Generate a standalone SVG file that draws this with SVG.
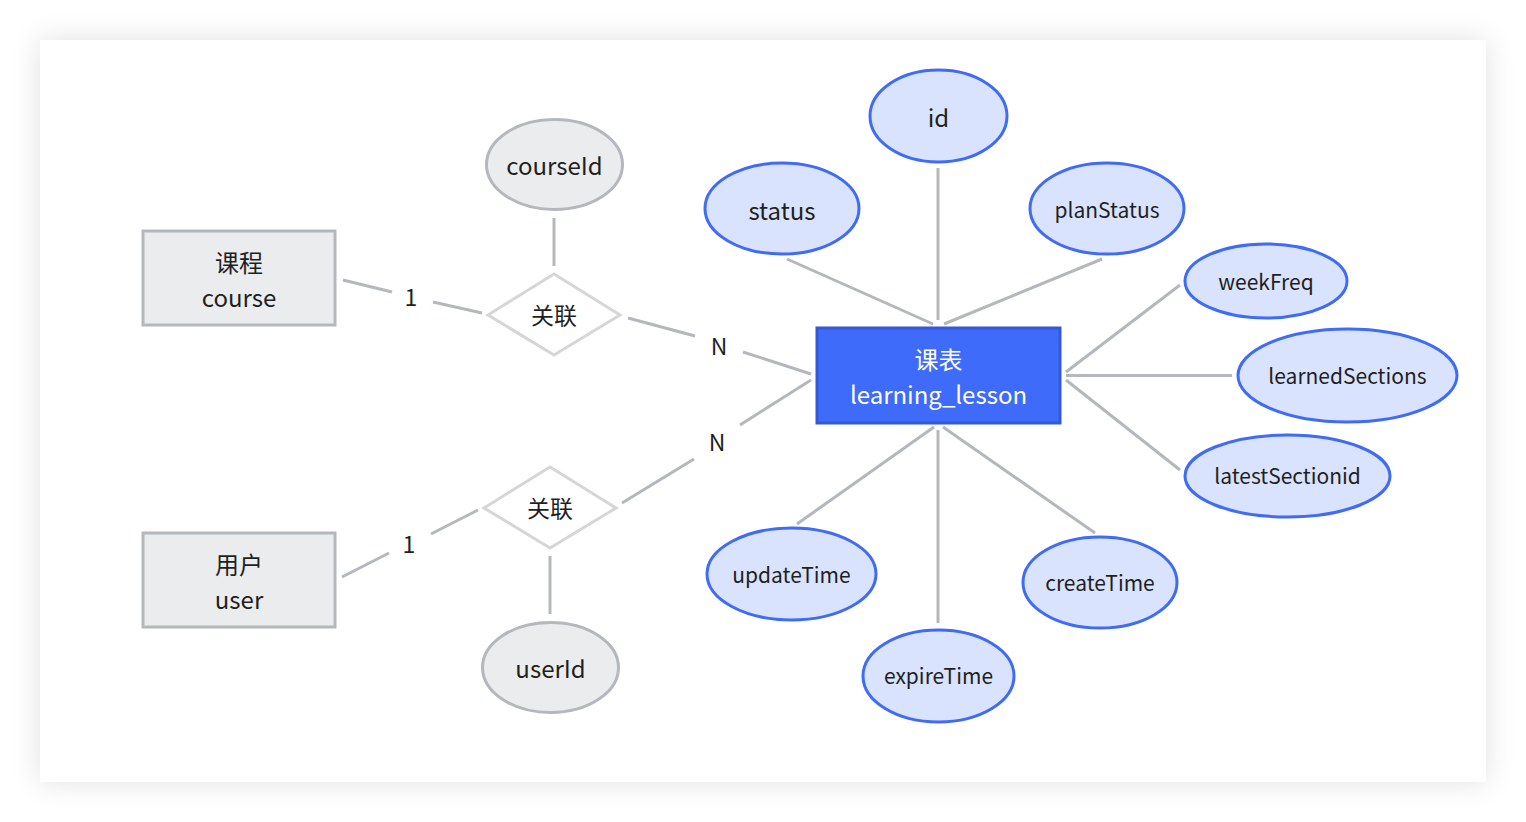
<svg xmlns="http://www.w3.org/2000/svg" width="1526" height="822" viewBox="0 0 1526 822">
<defs>
<filter id="sh" x="-10%" y="-10%" width="120%" height="120%">
<feDropShadow dx="0" dy="0" stdDeviation="14" flood-color="#000" flood-opacity="0.12"/>
</filter>
<style>
text{font-family:"Noto Sans CJK SC","Noto Sans",sans-serif;fill:#1f1f1f;text-anchor:middle;dominant-baseline:central}
.ent{fill:#EBECEE;stroke:#B4B8BC;stroke-width:3}
.rel{fill:#fff;stroke:#D6D6D6;stroke-width:3}
.gattr{fill:#EBECEE;stroke:#B4B8BC;stroke-width:3}
.battr{fill:#DAE3FD;stroke:#3F6BF5;stroke-width:3}
.main{fill:#3F6BFB;stroke:#3558D8;stroke-width:3}
.wt{fill:#fff}
#conn line{stroke:#B4B8BC;stroke-width:3}
.f24{font-size:24px}
.f23{font-size:23px}
.f21{font-size:21px}
</style>
</defs>
<rect x="0" y="0" width="1526" height="822" fill="#fff"/>
<rect x="40" y="40" width="1446" height="742" fill="#fff" filter="url(#sh)"/>
<g id="conn">
<line x1="343" y1="280" x2="392" y2="292"/>
<line x1="433" y1="302" x2="482" y2="313"/>
<line x1="554" y1="218" x2="554" y2="266"/>
<line x1="628" y1="318" x2="695" y2="336"/>
<line x1="743" y1="352" x2="811" y2="374"/>
<line x1="622" y1="503" x2="694" y2="459"/>
<line x1="740" y1="425" x2="811" y2="380"/>
<line x1="342" y1="577" x2="389" y2="553"/>
<line x1="431" y1="534" x2="478" y2="510"/>
<line x1="550" y1="556" x2="550" y2="614"/>
<line x1="787" y1="259" x2="933" y2="324"/>
<line x1="938" y1="168" x2="938" y2="320"/>
<line x1="944" y1="324" x2="1102" y2="259"/>
<line x1="1066" y1="372" x2="1180" y2="285"/>
<line x1="1066" y1="375.5" x2="1232" y2="375.5"/>
<line x1="1066" y1="380" x2="1180" y2="470"/>
<line x1="934" y1="427" x2="797" y2="524"/>
<line x1="938" y1="430" x2="938" y2="623"/>
<line x1="943" y1="427" x2="1095" y2="533"/>
<text class="f23" x="411" y="296">1</text>
<text class="f23" x="409" y="543">1</text>
<text class="f23" x="719" y="345">N</text>
<text class="f23" x="717" y="441">N</text>
</g>
<g id="course">
<rect class="ent" x="143" y="231" width="192" height="94"/>
<text class="f24" x="239" y="261">课程</text>
<text class="f24" x="239" y="296">course</text>
</g>
<g id="user">
<rect class="ent" x="143" y="533" width="192" height="94"/>
<text class="f24" x="239" y="563">用户</text>
<text class="f24" x="239" y="598">user</text>
</g>
<g id="rel1">
<polygon class="rel" points="488,315 554,274 620,315 554,355"/>
<text class="f23" x="554" y="314">关联</text>
</g>
<g id="rel2">
<polygon class="rel" points="484,508 550,467 616,508 550,548"/>
<text class="f23" x="550" y="507">关联</text>
</g>
<g id="courseId">
<ellipse class="gattr" cx="554.5" cy="164.5" rx="68" ry="45"/>
<text class="f24" x="554.5" y="164">courseId</text>
</g>
<g id="userId">
<ellipse class="gattr" cx="550.5" cy="667.5" rx="68" ry="45"/>
<text class="f24" x="550.5" y="667">userId</text>
</g>
<g id="lesson">
<rect class="main" x="817" y="328" width="243" height="95"/>
<text class="f24 wt" x="938.5" y="358">课表</text>
<text class="f24 wt" x="938.5" y="393">learning_lesson</text>
</g>
<g id="id">
<ellipse class="battr" cx="938.5" cy="116" rx="68.5" ry="46"/>
<text class="f24" x="938.5" y="116">id</text>
</g>
<g id="status">
<ellipse class="battr" cx="782" cy="208.5" rx="77" ry="45.5"/>
<text class="f24" x="782" y="209">status</text>
</g>
<g id="planStatus">
<ellipse class="battr" cx="1107" cy="208.5" rx="77" ry="45.5"/>
<text class="f21" x="1107" y="209">planStatus</text>
</g>
<g id="weekFreq">
<ellipse class="battr" cx="1266" cy="281" rx="81" ry="37"/>
<text class="f21" x="1266" y="281">weekFreq</text>
</g>
<g id="learnedSections">
<ellipse class="battr" cx="1347.5" cy="375.5" rx="109.5" ry="46.5"/>
<text class="f21" x="1347.5" y="375">learnedSections</text>
</g>
<g id="latestSectionid">
<ellipse class="battr" cx="1287.5" cy="476" rx="102.5" ry="41"/>
<text class="f21" x="1287.5" y="475">latestSectionid</text>
</g>
<g id="updateTime">
<ellipse class="battr" cx="791.5" cy="574" rx="84.5" ry="46"/>
<text class="f21" x="791.5" y="574">updateTime</text>
</g>
<g id="createTime">
<ellipse class="battr" cx="1100" cy="582.5" rx="77" ry="45.5"/>
<text class="f21" x="1100" y="582">createTime</text>
</g>
<g id="expireTime">
<ellipse class="battr" cx="938.5" cy="676" rx="75.5" ry="46"/>
<text class="f21" x="938.5" y="675">expireTime</text>
</g>
</svg>
